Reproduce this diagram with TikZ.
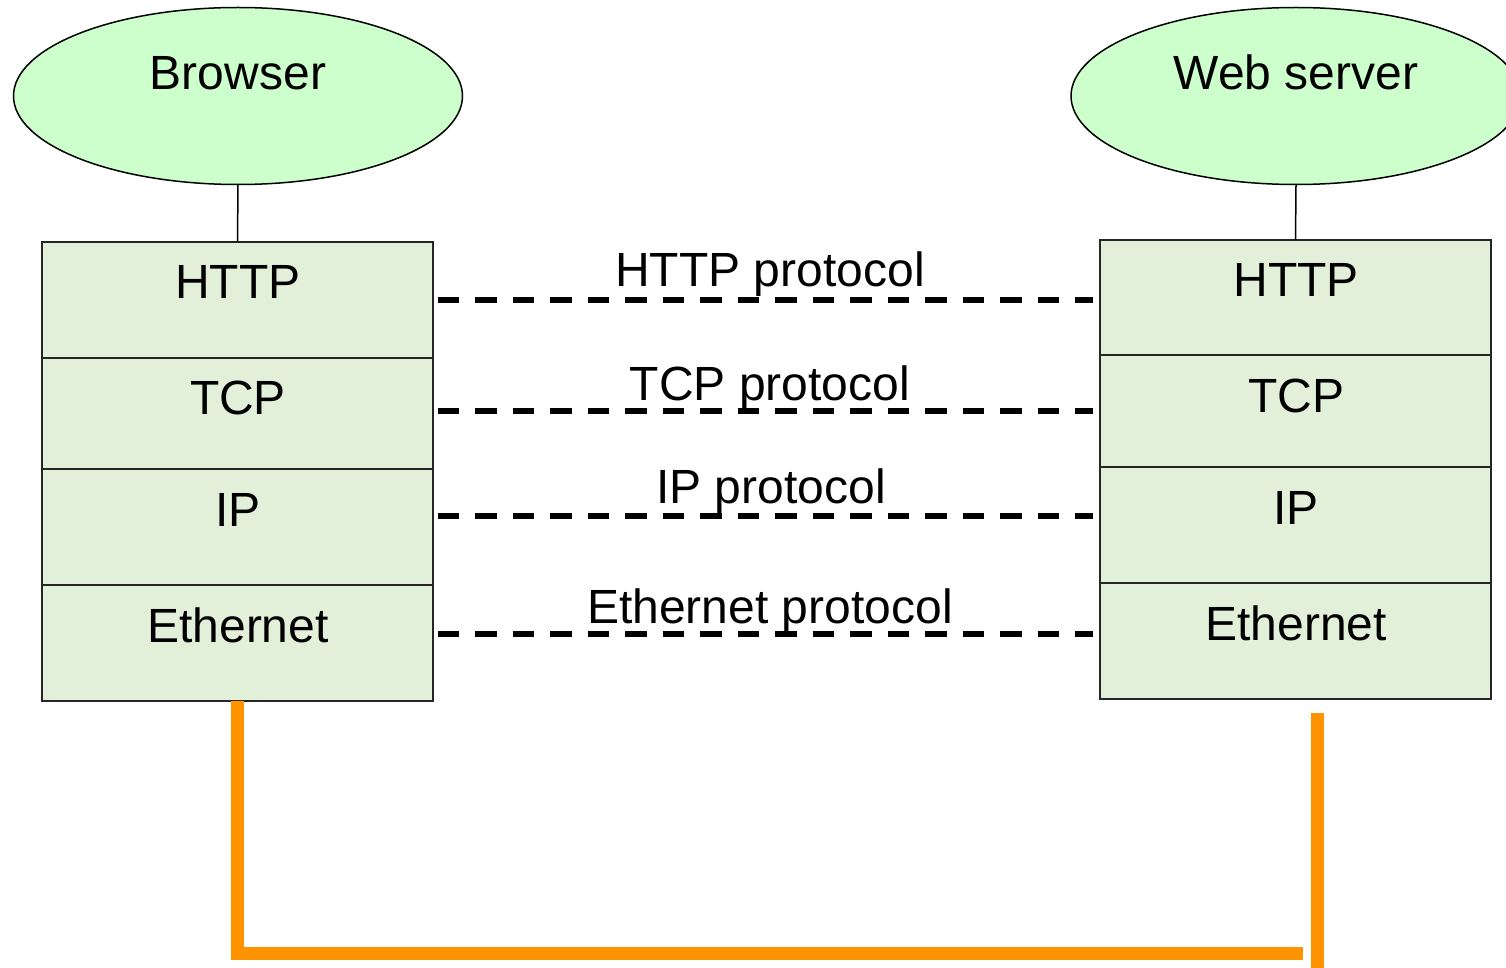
\documentclass[tikz,border=0pt]{standalone}
\usepackage{fontspec}
\setmainfont{Liberation Sans}
\usetikzlibrary{shapes.geometric,calc}

\definecolor{appgreen}{RGB}{204,255,204}
\definecolor{layergreen}{RGB}{226,239,217}
\definecolor{cableorange}{RGB}{255,148,0}

\tikzset{
  app/.style={ellipse, draw=black, line width=1.5pt, fill=appgreen,
    minimum width=449pt, minimum height=177pt, inner sep=0pt, outer sep=0pt},
  layer/.style={rectangle, draw=black!85, line width=2pt, fill=layergreen,
    minimum width=391pt, minimum height=#1, inner sep=0pt, outer sep=0pt,
    anchor=north west},
  lbl/.style={anchor=base, inner sep=0pt, font=\fontsize{48}{56}\selectfont},
  stack/.style={draw=black, line width=1.5pt},
  proto/.style={draw=black, line width=6pt, dash pattern=on 21.5pt off 16pt},
  cable/.style={draw=cableorange, line width=13pt, line join=miter, line cap=butt}
}

\begin{document}
\begin{tikzpicture}[x=1pt,y=-1pt]
\useasboundingbox (0,0) rectangle (1506,968);

% applications
\node[app] (browser) at (238,96) {};
\node[lbl] at (238,90) {Browser};
\node[app, minimum width=450pt] (server) at (1296,96) {};
\node[lbl] at (1296,90) {Web server};

% browser protocol stack
\node[layer=116pt] (lhttp) at (42,242) {};
\node[layer=111pt] (ltcp)  at (42,358) {};
\node[layer=116pt] (lip)   at (42,469) {};
\node[layer=116pt] (leth)  at (42,585) {};
\node[lbl] at (238,298) {HTTP};
\node[lbl] at (238,414) {TCP};
\node[lbl] at (238,526) {IP};
\node[lbl] at (238,642) {Ethernet};

% server protocol stack
\node[layer=115pt] (rhttp) at (1100,240) {};
\node[layer=112pt] (rtcp)  at (1100,355) {};
\node[layer=116pt] (rip)   at (1100,467) {};
\node[layer=116pt] (reth)  at (1100,583) {};
\node[lbl] at (1296,296) {HTTP};
\node[lbl] at (1296,412) {TCP};
\node[lbl] at (1296,524) {IP};
\node[lbl] at (1296,640) {Ethernet};

% applications sit on HTTP
\draw[stack] (browser.south) -- (lhttp.north);
\draw[stack] (server.south) -- (rhttp.north);

% peer protocols: horizontal dashed links between matching layers
\coordinate (p1) at ($(lhttp.east)+(4.7,0)$);
\coordinate (p2) at ($(ltcp.east)+(4.7,-2.5)$);
\coordinate (p3) at ($(lip.east)+(4.7,-11)$);
\coordinate (p4) at ($(leth.east)+(4.7,-9)$);
\draw[proto] (p1) -- ($(p1 -| rhttp.west)+(-7.3,0)$);
\draw[proto] (p2) -- ($(p2 -| rtcp.west)+(-7.3,0)$);
\draw[proto] (p3) -- ($(p3 -| rip.west)+(-7.3,0)$);
\draw[proto] (p4) -- ($(p4 -| reth.west)+(-7.3,0)$);
\node[lbl] at (770,287) {HTTP protocol};
\node[lbl] at (770,400) {TCP protocol};
\node[lbl] at (771,503) {IP protocol};
\node[lbl] at (770,623) {Ethernet protocol};

% physical link
\coordinate (lbend) at ($(leth.south)+(0,252.5)$);
\coordinate (lend)  at (1303,953.5);
\coordinate (rtop)  at (1317,713);
\coordinate (rbot)  at (1317,975);
\draw[cable] (leth.south) -- (lbend) -- (lend);
\draw[cable] (rtop) -- (rbot);
\end{tikzpicture}
\end{document}
